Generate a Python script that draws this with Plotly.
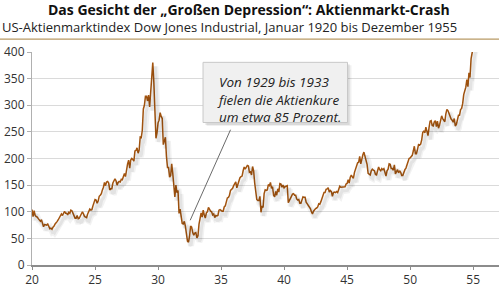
import plotly.graph_objects as go

# Dow Jones Industrial Average, monthly values, Jan 1920 - Dec 1955
start_year = 20
dow_1920s = [
    104, 91, 102, 93, 91, 90, 87, 84, 82, 85, 76, 72,        # 1920
    76, 75, 75, 77, 73, 68, 69, 67, 71, 73, 77, 81,          # 1921
    82, 85, 89, 93, 96, 93, 99, 101, 97, 97, 94, 99,         # 1922
    97, 103, 102, 96, 94, 88, 88, 93, 87, 88, 92, 95,        # 1923
    100, 96, 91, 90, 89, 96, 102, 105, 103, 104, 111, 120,   # 1924
    123, 122, 116, 120, 129, 131, 134, 141, 146, 155, 149, 156,  # 1925
    157, 154, 141, 143, 143, 154, 160, 162, 158, 150, 155, 157,  # 1926
    156, 161, 160, 165, 172, 166, 182, 190, 197, 182, 197, 200,  # 1927
    198, 195, 214, 215, 220, 210, 216, 240, 239, 253, 293, 300,  # 1928
    317, 317, 308, 319, 297, 333, 348, 380, 343, 273, 238, 248,  # 1929
]
dow_1930s = [
    267, 272, 286, 279, 275, 226, 234, 240, 204, 183, 183, 165,  # 1930
    168, 190, 172, 151, 128, 150, 136, 140, 97, 105, 93, 78,     # 1931
    77, 82, 73, 56, 45, 43, 54, 73, 71, 61, 56, 60,              # 1932
    61, 51, 55, 77, 89, 98, 90, 103, 94, 88, 98, 100,            # 1933
    108, 103, 101, 100, 94, 96, 89, 93, 92, 93, 103, 104,        # 1934
    102, 101, 101, 109, 111, 119, 126, 127, 131, 140, 142, 144,  # 1935
    149, 152, 156, 145, 153, 157, 164, 166, 167, 177, 184, 180,  # 1936
    185, 187, 186, 174, 175, 169, 185, 177, 154, 138, 123, 121,  # 1937
    121, 129, 99, 111, 108, 134, 141, 140, 141, 151, 149, 155,   # 1938
    144, 147, 131, 128, 138, 131, 143, 137, 153, 152, 146, 150,  # 1939
]
dow_1940s = [
    145, 147, 148, 149, 117, 122, 127, 129, 133, 134, 131, 131,  # 1940
    124, 122, 123, 116, 116, 123, 128, 127, 127, 118, 115, 111,  # 1941
    109, 106, 100, 96, 101, 104, 106, 107, 109, 115, 114, 119,   # 1942
    126, 130, 136, 136, 142, 143, 145, 137, 140, 138, 129, 136,  # 1943
    137, 136, 138, 136, 142, 148, 146, 146, 146, 146, 147, 152,  # 1944
    153, 160, 154, 165, 169, 165, 163, 174, 181, 186, 192, 193,  # 1945
    204, 190, 200, 207, 212, 205, 201, 189, 172, 170, 169, 177,  # 1946
    180, 178, 177, 170, 169, 177, 184, 179, 177, 181, 179, 181,  # 1947
    175, 167, 177, 180, 190, 189, 181, 181, 178, 188, 171, 177,  # 1948
    179, 173, 177, 174, 168, 168, 175, 179, 182, 189, 191, 200,  # 1949
]
dow_1950s = [
    201, 203, 206, 214, 223, 209, 209, 217, 226, 225, 227, 235,  # 1950
    249, 252, 248, 259, 250, 243, 258, 270, 271, 262, 261, 269,  # 1951
    271, 260, 270, 257, 263, 274, 280, 275, 271, 269, 284, 292,  # 1952
    290, 284, 280, 274, 272, 268, 275, 261, 264, 276, 281, 281,  # 1953
    292, 294, 303, 320, 328, 334, 348, 335, 361, 352, 387, 404,  # 1954
    409, 412, 409, 426, 425, 451, 466, 468, 467, 455, 483, 488,  # 1955
]
x_ticks = [20, 25, 30, 35, 40, 45, 50, 55]
y_ticks = [0, 50, 100, 150, 200, 250, 300, 350, 400]

title_text = "<b>Das Gesicht der „Großen Depression“: Aktienmarkt-Crash</b>"
subtitle_text = "US-Aktienmarktindex Dow Jones Industrial, Januar 1920 bis Dezember 1955"
note_text = "Von 1929 bis 1933<br>fielen die Aktienkure<br>um etwa 85 Prozent."

values = dow_1920s + dow_1930s + dow_1940s + dow_1950s
x_vals = [start_year + i / 12 for i in range(len(values))]

FONT = "Open Sans"
LINE = "#a3540f"

fig = go.Figure()
# soft shadow (same data drawn on offset overlay axes)
fig.add_trace(go.Scatter(x=x_vals, y=values, mode="lines", xaxis="x2", yaxis="y2",
                         line=dict(color="rgba(0,0,0,0.05)", width=6), hoverinfo="skip",
                         showlegend=False))
fig.add_trace(go.Scatter(x=x_vals, y=values, mode="lines", xaxis="x2", yaxis="y2",
                         line=dict(color="rgba(0,0,0,0.06)", width=3), hoverinfo="skip",
                         showlegend=False))
fig.add_trace(go.Scatter(x=x_vals, y=values, mode="lines",
                         line=dict(color=LINE, width=1.5), showlegend=False))

fig.update_layout(
    width=499, height=288,
    margin=dict(l=32, r=0, t=52, b=20),
    paper_bgcolor="white", plot_bgcolor="white",
    font=dict(family=FONT, size=11, color="#333"),
    xaxis=dict(range=[20, 57.05], tickvals=x_ticks, ticktext=[str(v) for v in x_ticks],
               showgrid=False, zeroline=False, showline=True, linecolor="#8c8c8c",
               linewidth=1.5, ticks="outside", ticklen=3, tickcolor="#8c8c8c",
               tickfont=dict(size=12, color="#333")),
    yaxis=dict(range=[0, 400], tickvals=y_ticks, showgrid=True, gridcolor="#dadada",
               gridwidth=1, zeroline=False, showline=True, linecolor="#b0b0b0",
               ticks="outside", ticklen=4, tickcolor="#b0b0b0",
               tickfont=dict(size=12, color="#333")),
    xaxis2=dict(range=[20 - 0.2, 57.05 - 0.2], overlaying="x", visible=False),
    yaxis2=dict(range=[0 + 7, 400 + 7], overlaying="y", visible=False),
)

# title, subtitle, rule
fig.add_annotation(text=title_text, xref="paper", yref="paper", x=0.465, y=(268 - 9) / 216,
                   xanchor="center", yanchor="middle", showarrow=False,
                   font=dict(size=14, color="#111", family=FONT))
fig.add_annotation(text=subtitle_text, xref="paper", yref="paper", x=-32 / 467, y=(268 - 27) / 216,
                   xanchor="left", yanchor="middle", showarrow=False,
                   font=dict(size=13, color="#222", family=FONT))
fig.add_shape(type="line", xref="paper", yref="paper", x0=-32 / 467, x1=1,
              y0=(268 - 39) / 216, y1=(268 - 39) / 216,
              line=dict(color="#b89a64", width=1.2))

# annotation pointer and box
fig.add_shape(type="line", xref="x", yref="y", x0=32.55, y0=84, x1=35.75, y1=254,
              line=dict(color="#444", width=0.8))
fig.add_shape(type="rect", xref="x", yref="y", x0=33.85, x1=45.35, y0=261, y1=375,
              line=dict(width=0), fillcolor="rgba(0,0,0,0.06)")
fig.add_shape(type="rect", xref="x", yref="y", x0=33.75, x1=45.2, y0=263, y1=377,
              line=dict(width=0), fillcolor="rgba(0,0,0,0.09)")
fig.add_shape(type="rect", xref="x", yref="y", x0=33.57, x1=45.03, y0=267.6, y1=380.6,
              line=dict(color="#c8c8c8", width=1), fillcolor="#f0f0f0")
fig.add_annotation(text=note_text, xref="x", yref="y", x=34.5, y=311, xanchor="left",
                   yanchor="middle", align="left", showarrow=False,
                   font=dict(size=13.5, color="#222", family=FONT, style="italic"))

fig.write_html("out.html")
